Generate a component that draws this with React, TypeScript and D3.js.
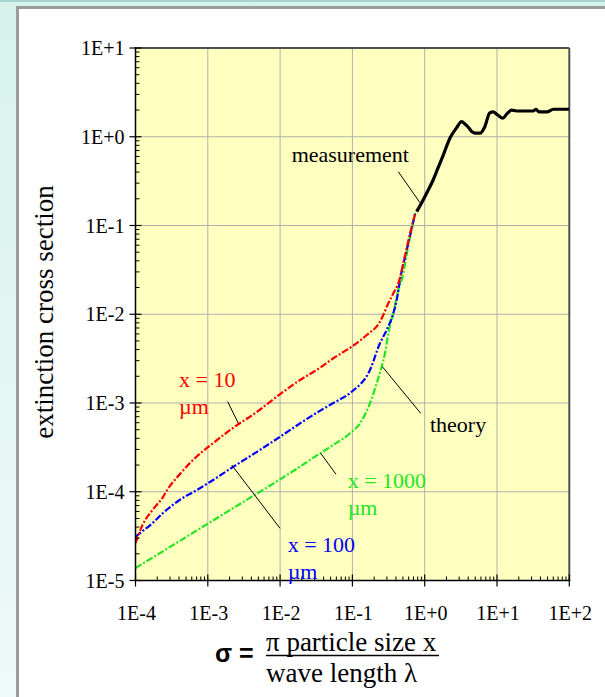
import React from 'react';
import * as d3 from 'd3';

// ---- axis definitions ----
const xTickValues = [1e-4, 1e-3, 1e-2, 1e-1, 1e0, 1e1, 1e2];
const xTickLabels = ['1E-4', '1E-3', '1E-2', '1E-1', '1E+0', '1E+1', '1E+2'];
const yTickValues = [1e-5, 1e-4, 1e-3, 1e-2, 1e-1, 1e0, 1e1];
const yTickLabels = ['1E-5', '1E-4', '1E-3', '1E-2', '1E-1', '1E+0', '1E+1'];

// ---- series: [log10(sigma), log10(extinction cross section)] ----
const theoryX10: [number, number][] = [
  [-4.0, -4.58], [-3.9, -4.37], [-3.76, -4.2], [-3.62, -4.06], [-3.57, -3.99], [-3.385, -3.8],
  [-3.15, -3.6], [-2.97, -3.48], [-2.65, -3.28], [-2.32, -3.1],
  [-2.0, -2.9], [-1.725, -2.741], [-1.494, -2.628], [-1.264, -2.496], [-1.01, -2.366],
  [-0.802, -2.234], [-0.619, -2.084], [-0.573, -2.008], [-0.503, -1.877], [-0.434, -1.764],
  [-0.365, -1.651], [-0.27, -1.33], [-0.2, -1.08], [-0.13, -0.86],
];
const theoryX100: [number, number][] = [
  [-4.0, -4.507], [-3.88, -4.43], [-3.76, -4.35], [-3.62, -4.24], [-3.385, -4.09],
  [-3.15, -3.98], [-2.97, -3.89], [-2.65, -3.72], [-2.32, -3.55], [-2.0, -3.38],
  [-1.725, -3.23], [-1.494, -3.11], [-1.264, -3.0], [-1.01, -2.873],
  [-0.757, -2.628], [-0.619, -2.327], [-0.526, -2.177], [-0.434, -1.989], [-0.387, -1.839],
  [-0.342, -1.614], [-0.25, -1.28], [-0.13, -0.86],
];
const theoryX1000: [number, number][] = [
  [-4.0, -4.86], [-3.5, -4.61], [-3.0, -4.36], [-2.5, -4.11], [-2.0, -3.86],
  [-1.725, -3.717], [-1.448, -3.567], [-1.264, -3.473], [-1.033, -3.341], [-0.895, -3.229],
  [-0.757, -3.003], [-0.664, -2.778], [-0.595, -2.591], [-0.549, -2.44], [-0.503, -2.215],
  [-0.434, -1.989], [-0.365, -1.727], [-0.318, -1.614], [-0.22, -1.2], [-0.13, -0.86],
];
const measurement: [number, number][] = [
  [-0.111, -0.844], [-0.04, -0.74], [0.03, -0.63], [0.115, -0.49], [0.18, -0.36], [0.25, -0.22],
  [0.35, -0.014], [0.44, 0.1], [0.51, 0.17], [0.56, 0.14], [0.6, 0.11], [0.65, 0.06],
  [0.7, 0.04], [0.765, 0.04], [0.83, 0.11], [0.9, 0.27], [0.945, 0.28], [1.01, 0.245],
  [1.08, 0.21], [1.14, 0.26], [1.2, 0.3], [1.27, 0.29], [1.5, 0.29], [1.54, 0.31],
  [1.58, 0.28], [1.69, 0.28], [1.78, 0.31], [2.0, 0.31],
];

// ---- annotations (log10 coords) ----
const labelMeasurement = { text: 'measurement', at: [-1.84, -0.288], line: [[-0.365, -0.394], [-0.065, -0.743]] };
const labelTheory = { text: 'theory', at: [0.073, -3.323], line: [[-0.586, -2.591], [-0.055, -3.116]] };
const labelX10 = { lines: ['x = 10', 'µm'], at: [-3.398, -2.816], line: [[-2.725, -2.985], [-2.578, -3.229]] };
const labelX100 = { lines: ['x = 100', 'µm'], at: [-1.895, -4.675], line: [[-2.669, -3.699], [-2.001, -4.412]] };
const labelX1000 = { lines: ['x = 1000', 'µm'], at: [-1.065, -3.961], line: [[-1.438, -3.567], [-1.227, -3.803]] };

const W = 605;
const H = 697;
const L = 135.5, R = 569.3, T = 48, B = 580.5;

export default function App() {
  const x = d3.scaleLog().domain([1e-4, 1e2]).range([L, R]);
  const y = d3.scaleLog().domain([1e-5, 1e1]).range([B, T]);
  const px = (lx: number) => x(Math.pow(10, lx));
  const py = (ly: number) => y(Math.pow(10, ly));
  const line = d3.line<[number, number]>().x(d => px(d[0])).y(d => py(d[1])).curve(d3.curveMonotoneX);

  const xMinor: number[] = [];
  for (let e = -4; e < 2; e++) for (let m = 2; m <= 9; m++) xMinor.push(m * Math.pow(10, e));
  const yMinor: number[] = [];
  for (let e = -5; e < 1; e++) for (let m = 2; m <= 9; m++) yMinor.push(m * Math.pow(10, e));

  const serif = '"Liberation Serif", "Times New Roman", serif';
  const annFont = 22;
  const dash = '7,2,2,2';
  const red = '#ff0000', blue = '#0000ff', green = '#22e622';

  const leader = (l: number[][], key: string) => (
    <line key={key} x1={px(l[0][0])} y1={py(l[0][1])} x2={px(l[1][0])} y2={py(l[1][1])} stroke="#000" strokeWidth={1} />
  );
  const twoLine = (a: any, color: string) => (
    <text x={px(a.at[0])} y={py(a.at[1])} fill={color} fontFamily={serif} fontSize={annFont}>
      <tspan x={px(a.at[0])}>{a.lines[0]}</tspan>
      <tspan x={px(a.at[0])} dy={27}>{a.lines[1]}</tspan>
    </text>
  );

  return (
    <svg width={W} height={H} style={{ position: 'absolute', left: 0, top: 0 }} xmlns="http://www.w3.org/2000/svg">
      <defs>
        <linearGradient id="bg" x1="0" y1="0" x2="0" y2="1">
          <stop offset="0" stopColor="#d6f2ec" />
          <stop offset="1" stopColor="#effaf8" />
        </linearGradient>
        <clipPath id="plotClip">
          <rect x={L} y={T} width={R - L} height={B - T} />
        </clipPath>
      </defs>
      <rect x={0} y={0} width={W} height={H} fill="url(#bg)" />
      <rect x={0} y={0} width={W} height={2} fill="#a6d3cb" />
      <rect x={17.5} y={7.5} width={700} height={800} fill="#ffffff" stroke="#9c9c9c" strokeWidth={3} />

      {/* plot background */}
      <rect x={L} y={T} width={R - L} height={B - T} fill="#ffffc0" />

      {/* grid */}
      {xTickValues.slice(1, -1).map((v, i) => (
        <line key={'gx' + i} x1={x(v)} x2={x(v)} y1={T} y2={B} stroke="#b0b0b0" strokeWidth={1} />
      ))}
      {yTickValues.slice(1, -1).map((v, i) => (
        <line key={'gy' + i} x1={L} x2={R} y1={y(v)} y2={y(v)} stroke="#b0b0b0" strokeWidth={1} />
      ))}

      {/* frame */}
      <line x1={L} x2={R} y1={T} y2={T} stroke="#505050" strokeWidth={2} />
      <line x1={R} x2={R} y1={T} y2={B} stroke="#505050" strokeWidth={2} />

      {/* series */}
      <g clipPath="url(#plotClip)" fill="none" strokeLinecap="butt">
        <path d={line(theoryX1000) || ''} stroke={green} strokeWidth={2.2} strokeDasharray={dash} />
        <path d={line(theoryX100) || ''} stroke={blue} strokeWidth={2.2} strokeDasharray={dash} />
        <path d={line(theoryX10) || ''} stroke={red} strokeWidth={2.2} strokeDasharray={dash} />
        <path d={line(measurement) || ''} stroke="#000" strokeWidth={3.2} strokeLinejoin="round" />
      </g>

      {/* axes */}
      <line x1={L} x2={L} y1={T - 1} y2={B} stroke="#000" strokeWidth={1.5} />
      <line x1={L} x2={R + 1} y1={B} y2={B} stroke="#000" strokeWidth={1.5} />
      {yMinor.map((v, i) => (
        <line key={'ym' + i} x1={L} x2={L + 4} y1={y(v)} y2={y(v)} stroke="#000" strokeWidth={1} />
      ))}
      {yTickValues.map((v, i) => (
        <line key={'yt' + i} x1={L - 6} x2={L + 6} y1={y(v)} y2={y(v)} stroke="#000" strokeWidth={1.2} />
      ))}
      {xMinor.map((v, i) => (
        <line key={'xm' + i} x1={x(v)} x2={x(v)} y1={B} y2={B - 4} stroke="#000" strokeWidth={1} />
      ))}
      {xTickValues.map((v, i) => (
        <line key={'xt' + i} x1={x(v)} x2={x(v)} y1={B - 6} y2={B + 6} stroke="#000" strokeWidth={1.2} />
      ))}

      {/* tick labels */}
      {yTickValues.map((v, i) => (
        <text key={'yl' + i} x={L - 11} y={y(v)} dy="0.35em" textAnchor="end" fontFamily={serif} fontSize={20} fill="#000">
          {yTickLabels[i]}
        </text>
      ))}
      {xTickValues.map((v, i) => (
        <text key={'xl' + i} x={x(v) + 1} y={620} textAnchor="middle" fontFamily={serif} fontSize={20} fill="#000">
          {xTickLabels[i]}
        </text>
      ))}

      {/* axis titles */}
      <text transform="translate(53,312) rotate(-90)" textAnchor="middle" fontFamily={serif} fontSize={27} fill="#000">
        extinction cross section
      </text>
      <text x={215} y={662} fontFamily='"Liberation Sans", Arial, sans-serif' fontWeight="bold" fontSize={25} fill="#000">σ =</text>
      <text x={266} y={651} fontFamily={serif} fontSize={27} fill="#000">π particle size x</text>
      <line x1={266} x2={439} y1={655.5} y2={655.5} stroke="#000" strokeWidth={1.5} />
      <text x={266} y={682} fontFamily={serif} fontSize={27} fill="#000">wave length λ</text>

      {/* annotations */}
      {leader(labelMeasurement.line, 'lm')}
      {leader(labelTheory.line, 'lt')}
      {leader(labelX10.line, 'l10')}
      {leader(labelX100.line, 'l100')}
      {leader(labelX1000.line, 'l1000')}
      <text x={px(labelMeasurement.at[0])} y={py(labelMeasurement.at[1])} fontFamily={serif} fontSize={annFont} fill="#000">
        {labelMeasurement.text}
      </text>
      <text x={px(labelTheory.at[0])} y={py(labelTheory.at[1])} fontFamily={serif} fontSize={annFont} fill="#000">
        {labelTheory.text}
      </text>
      {twoLine(labelX10, red)}
      {twoLine(labelX100, blue)}
      {twoLine(labelX1000, green)}
    </svg>
  );
}
